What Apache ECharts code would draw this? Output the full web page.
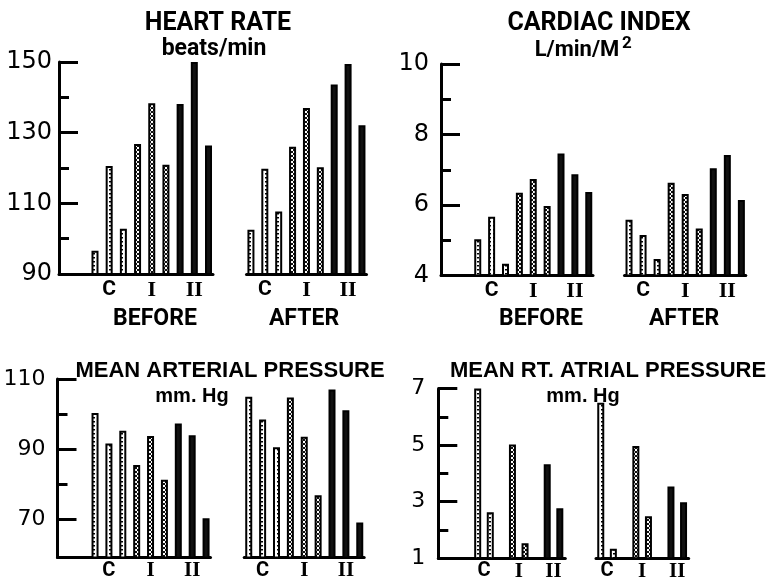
<!DOCTYPE html>
<html><head><meta charset="utf-8">
<script src="https://cdn.jsdelivr.net/npm/echarts@6/dist/echarts.min.js"></script>
<style>html,body{margin:0;padding:0;background:#fff}#c{width:775px;height:580px}</style>
</head><body><div id="c"></div>
<script>
// ---- data ----
const slotGroups = ['C','C','C','I','I','I','II','II','II'];
const slotLabels = ['', 'C', '', '', 'I', '', '', 'II', ''];
const hrBefore = [96.6, 120.6, 102.8, 126.8, 138.3, 120.9, 138.1, 150, 126.4];
const hrAfter  = [102.5, 119.8, 107.7, 126.0, 137.0, 120.2, 143.6, 149.4, 132.1];
const ciBefore = [5.03, 5.67, 4.33, 6.35, 6.74, 5.97, 7.46, 6.87, 6.37];
const ciAfter  = [5.58, 5.15, 4.47, 6.63, 6.31, 5.33, 7.04, 7.42, 6.14];
const mapBefore = [100.3, 91.6, 95.2, 85.4, 93.7, 81.2, 97.3, 93.9, 70.2];
const mapAfter  = [104.9, 98.4, 90.5, 104.7, 93.5, 76.8, 107.0, 101.1, 69.0];
const rapGroups = ['C', 'I', 'II'];
const rapBeforeFirst  = [7.0, 5.02, 4.32];
const rapBeforeSecond = [2.63, 1.53, 2.77];
const rapAfterFirst   = [6.5, 4.97, 3.54];
const rapAfterSecond  = [1.34, 2.49, 2.98];
const hrLabels = [90, 110, 130, 150], hrMajor = [110, 130, 150], hrMinor = [100, 120, 140];
const ciLabels = [4, 6, 8, 10], ciMajor = [6, 8, 10], ciMinor = [5, 7, 9];
const mapLabels = [70, 90, 110], mapMajor = [70, 90, 110], mapMinor = [80, 100];
const rapLabels = [1, 3, 5, 7], rapMajor = [3, 5, 7], rapMinor = [2, 4, 6];

// ---- patterns ----
function makePattern(w, h, draw){
  const c = document.createElement('canvas'); c.width = w; c.height = h;
  const g = c.getContext('2d'); draw(g, w, h);
  return { image: c, repeat: 'repeat' };
}
const patC = makePattern(4, 4, (g,w,h)=>{ g.fillStyle='#fff'; g.fillRect(0,0,w,h); g.fillStyle='#000'; g.fillRect(1,1,2,1.5); });
const patI = makePattern(4, 4, (g,w,h)=>{ g.fillStyle='#fff'; g.fillRect(0,0,w,h); g.fillStyle='#111';
  for(let i=0;i<4;i++){ g.fillRect(i,i,1,1); g.fillRect(3-i,i,1,1); } });
const styleOf = {
  C:  { color: patC, borderColor: '#000', borderWidth: 2 },
  I:  { color: patI, borderColor: '#000', borderWidth: 2 },
  II: { color: '#111', borderColor: '#000', borderWidth: 2 }
};

const grids = [], xAxes = [], yAxes = [], series = [];
function addGrid(left, right, p){
  grids.push({ left: left, width: right - left, top: p.top, height: p.bottom - p.top, outerBoundsMode: 'none', containLabel: false });
  return grids.length - 1;
}
// grid that only draws the horizontal baseline
function lineGrid(p, left, right){
  const gi = addGrid(left, right, p);
  xAxes.push({ gridIndex: gi, type: 'category', data: [''], position: 'bottom',
    axisLine: { show: true, onZero: false, lineStyle: { color: '#000', width: 3 } },
    axisTick: { show: false }, axisLabel: { show: false }, splitLine: { show: false } });
  yAxes.push({ gridIndex: gi, type: 'value', min: p.min, max: p.max, show: false });
}
function catLabel(p){
  return {
    interval: 0, margin: p.catMargin, color: '#000',
    formatter: v => v === 'C' ? '{c|C}' : (v ? '{r|' + v + '}' : ''),
    rich: {
      c: { fontFamily: 'Roboto', fontWeight: 'bold', fontSize: p.catSize, color: '#000' },
      r: { fontFamily: 'Liberation Serif', fontWeight: 'bold', fontSize: p.catSize + 1, color: '#000' }
    }
  };
}
function addBars(xi, yi, dataSets, styleFn, barGap, invisible){
  dataSets.forEach((vals, si) => {
    series.push({ type: 'bar', xAxisIndex: xi, yAxisIndex: yi, barWidth: 7, barGap: barGap,
      animation: false, silent: true,
      data: vals.map((v, i) => ({ value: v,
        itemStyle: invisible ? { opacity: 0 } : styleOf[styleFn(i, si)] })) });
  });
}
// grid holding the bars; optionally the value axis, shifted left onto axisX
function barGrid(p, left, right, cats, dataSets, styleFn, barGap, axisX){
  const gi = addGrid(left, right, p);
  const withY = axisX !== undefined;
  const off = withY ? left - axisX : 0;
  xAxes.push({ gridIndex: gi, type: 'category', data: cats, position: 'bottom',
    axisLine: { show: false }, axisTick: { show: false }, axisLabel: catLabel(p) });
  if (withY) {
    yAxes.push({ gridIndex: gi, type: 'value', min: p.min, max: p.max, position: 'left', offset: off,
      axisLine: { show: true, lineStyle: { color: '#000', width: 3 } },
      axisTick: { show: true, inside: true, length: 10, customValues: p.minor, lineStyle: { color: '#000', width: 3 } },
      axisLabel: { show: true, customValues: p.labels, margin: p.margin, color: '#000',
        fontFamily: 'DejaVu Sans', fontSize: p.labelSize },
      splitLine: { show: false } });
  } else {
    yAxes.push({ gridIndex: gi, type: 'value', min: p.min, max: p.max, show: false });
  }
  addBars(xAxes.length - 1, yAxes.length - 1, dataSets, styleFn, barGap, false);
  if (withY) {
    // twin grid carrying only the long (major) ticks
    const gj = addGrid(left, right, p);
    xAxes.push({ gridIndex: gj, type: 'category', data: cats, show: false });
    yAxes.push({ gridIndex: gj, type: 'value', min: p.min, max: p.max, position: 'left', offset: off,
      axisLine: { show: false },
      axisTick: { show: true, inside: true, length: 19, customValues: p.major, lineStyle: { color: '#000', width: 3 } },
      axisLabel: { show: false }, splitLine: { show: false } });
    addBars(xAxes.length - 1, yAxes.length - 1, dataSets, styleFn, barGap, true);
  }
}

const HR = { top: 62, bottom: 274, min: 90, max: 150, labels: hrLabels, major: hrMajor, minor: hrMinor, margin: 7, labelSize: 24, catMargin: 5, catSize: 21 };
const CI = { top: 64, bottom: 275.5, min: 4, max: 10, labels: ciLabels, major: ciMajor, minor: ciMinor, margin: 12, labelSize: 24, catMargin: 5, catSize: 21 };
const MAP = { top: 379, bottom: 557.5, min: 59, max: 110, labels: mapLabels, major: mapMajor, minor: mapMinor, margin: 12, labelSize: 22, catMargin: 3, catSize: 20 };
const RAP = { top: 388.5, bottom: 558.3, min: 1, max: 7, labels: rapLabels, major: rapMajor, minor: rapMinor, margin: 13, labelSize: 22, catMargin: 3, catSize: 20 };

const nineStyle = (i) => slotGroups[i];
const rapStyle = (i) => rapGroups[i];

// Heart rate
lineGrid(HR, 59, 213);
barGrid(HR, 87.9, 215.6, slotLabels, [hrBefore], nineStyle, '0%', 59);
lineGrid(HR, 246.5, 366.5);
barGrid(HR, 244, 368.9, slotLabels, [hrAfter], nineStyle, '0%');
// Cardiac index
lineGrid(CI, 441, 593);
barGrid(CI, 470.8, 595.7, slotLabels, [ciBefore], nineStyle, '0%', 441);
lineGrid(CI, 624.5, 745.8);
barGrid(CI, 622, 748.4, slotLabels, [ciAfter], nineStyle, '0%');
// Mean arterial pressure
lineGrid(MAP, 57.5, 210.5);
barGrid(MAP, 88.1, 213, slotLabels, [mapBefore], nineStyle, '0%', 57.5);
lineGrid(MAP, 244.2, 364.2);
barGrid(MAP, 241.8, 366.7, slotLabels, [mapAfter], nineStyle, '0%');
// Mean RT atrial pressure
lineGrid(RAP, 438.3, 565.3);
barGrid(RAP, 466.6, 570.9, rapGroups, [rapBeforeFirst, rapBeforeSecond], rapStyle, '80%', 438.3);
lineGrid(RAP, 596, 688.7);
barGrid(RAP, 589.5, 694.8, rapGroups, [rapAfterFirst, rapAfterSecond], rapStyle, '80%');

function txt(x, y, text, font){
  return { type: 'text', x: x, y: y, silent: true,
    style: { text: text, font: font, fill: '#000', align: 'center', verticalAlign: 'middle' } };
}
const T1 = 'bold 25px Roboto', T2 = 'bold 23px Roboto', T3 = 'bold 22px "Liberation Sans"', T4 = 'bold 20px "Liberation Sans"';
const graphic = [
  txt(218, 24, 'HEART RATE', T1),
  txt(214, 49, 'beats/min', T2),
  txt(599, 24, 'CARDIAC INDEX', T1),
  txt(577, 50, 'L/min/M', 'bold 22px Roboto'),
  txt(627, 44, '2', 'bold 17px Roboto'),
  txt(155, 319, 'BEFORE', T2),
  txt(304, 319, 'AFTER', T2),
  txt(541, 319, 'BEFORE', T2),
  txt(684, 319, 'AFTER', T2),
  txt(230, 371, 'MEAN ARTERIAL PRESSURE', T3),
  txt(192, 396, 'mm. Hg', T4),
  txt(608, 371, 'MEAN RT. ATRIAL PRESSURE', T3),
  txt(583, 396, 'mm. Hg', T4)
];

const chart = echarts.init(document.getElementById('c'), null, { renderer: 'canvas' });
chart.setOption({
  backgroundColor: '#fff',
  animation: false,
  grid: grids, xAxis: xAxes, yAxis: yAxes, series: series, graphic: graphic
});
</script></body></html>
